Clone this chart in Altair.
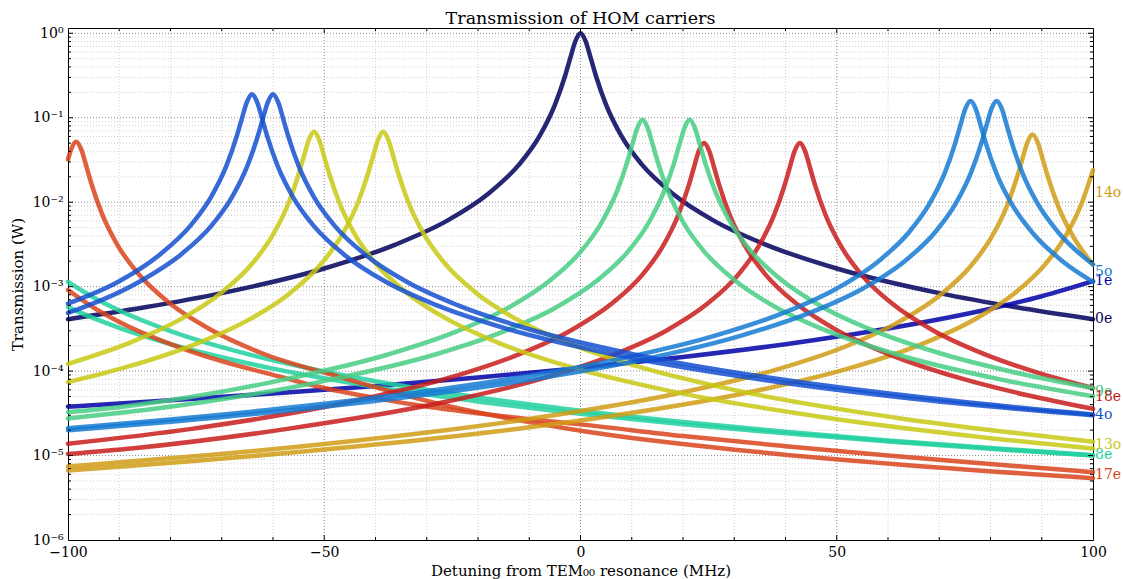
import altair as alt
import pandas as pd

# Transmitted power (W) of the higher-order-mode carriers against detuning (MHz).
# Each mode family has one or two resonances.

x_0e = [-100, -85, -70, -50, -36, -26, -18, -12, -8, -5, -3, -2, -1, 0, 1, 2, 3, 5, 8, 12, 18, 26, 36, 50, 70, 85, 100]
t_0e = [4.12e-4, 5.7e-4, 8.39e-4, 1.64e-3, 3.17e-3, 6.05e-3, 1.26e-2, 2.78e-2, 6.05e-2, 0.142, 0.314, 0.507, 0.805, 1.0,
        0.805, 0.507, 0.314, 0.142, 6.05e-2, 2.78e-2, 1.26e-2, 6.05e-3, 3.17e-3, 1.64e-3, 8.39e-4, 5.7e-4, 4.12e-4]

x_1e = [-100, -80, -60, -40, -20, 0, 20, 40, 60, 80, 90, 100]
t_1e = [3.79e-5, 4.51e-5, 5.43e-5, 6.67e-5, 8.39e-5, 1.09e-4, 1.47e-4, 2.08e-4, 3.19e-4, 5.48e-4, 7.69e-4, 1.16e-3]

x_4o_a = [-100, -90.1, -82.1, -76.1, -72.1, -69.1, -67.1, -66.1, -65.1, -64.1, -63.1, -62.1, -61.1, -59.1, -56.1,
          -52.1, -46.1, -38.1, -28.1, -14.1, 5.9, 35.9, 65.9, 100]
t_4o_a = [6.3e-4, 1.15e-3, 2.39e-3, 5.28e-3, 1.15e-2, 2.69e-2, 5.97e-2, 9.64e-2, 0.153, 0.19, 0.153, 9.64e-2, 5.97e-2,
          2.69e-2, 1.15e-2, 5.28e-3, 2.39e-3, 1.15e-3, 6.03e-4, 3.13e-4, 1.6e-4, 7.83e-5, 4.63e-5, 3.0e-5]

x_4o_b = [-100, -86, -78, -72, -68, -65, -63, -62, -61, -60, -59, -58, -57, -55, -52, -48, -42, -34, -24, -10, 10, 40, 70, 100]
t_4o_b = [4.88e-4, 1.15e-3, 2.39e-3, 5.28e-3, 1.15e-2, 2.69e-2, 5.97e-2, 9.64e-2, 0.153, 0.19, 0.153, 9.64e-2, 5.97e-2,
          2.69e-2, 1.15e-2, 5.28e-3, 2.39e-3, 1.15e-3, 6.03e-4, 3.13e-4, 1.6e-4, 7.83e-5, 4.63e-5, 3.06e-5]

x_5o_a = [-100, -83.9, -53.9, -23.9, 6.1, 26.1, 40.1, 50.1, 58.1, 64.1, 68.1, 71.1, 73.1, 74.1, 75.1, 76.1, 77.1, 78.1,
          79.1, 81.1, 84.1, 88.1, 94.1, 100]
t_5o_a = [2.1e-5, 2.55e-5, 3.86e-5, 6.53e-5, 1.33e-4, 2.61e-4, 5.02e-4, 9.59e-4, 1.99e-3, 4.41e-3, 9.59e-3, 2.24e-2,
          4.98e-2, 8.04e-2, 0.128, 0.158, 0.128, 8.04e-2, 4.98e-2, 2.24e-2, 9.59e-3, 4.41e-3, 1.99e-3, 1.14e-3]

x_5o_b = [-100, -78.8, -48.8, -18.8, 11.2, 31.2, 45.2, 55.2, 63.2, 69.2, 73.2, 76.2, 78.2, 79.2, 80.2, 81.2, 82.2, 83.2,
          84.2, 86.2, 89.2, 93.2, 100]
t_5o_b = [1.99e-5, 2.55e-5, 3.86e-5, 6.53e-5, 1.33e-4, 2.61e-4, 5.02e-4, 9.59e-4, 1.99e-3, 4.41e-3, 9.59e-3, 2.24e-2,
          4.98e-2, 8.04e-2, 0.128, 0.158, 0.128, 8.04e-2, 4.98e-2, 2.24e-2, 9.59e-3, 4.41e-3, 1.83e-3]

x_8e_a = [-100, -95, -90, -80, -70, -60, -50, -40, -20, 0, 20, 40, 60, 80, 100]
t_8e_a = [1.14e-3, 7.43e-4, 5.22e-4, 2.98e-4, 1.92e-4, 1.34e-4, 9.89e-5, 7.57e-5, 4.88e-5, 3.39e-5, 2.49e-5, 1.91e-5,
          1.51e-5, 1.23e-5, 1.01e-5]

x_8e_b = [-100, -95, -90, -80, -70, -60, -50, -40, -20, 0, 20, 40, 60, 80, 100]
t_8e_b = [5.73e-4, 4.23e-4, 3.25e-4, 2.09e-4, 1.46e-4, 1.07e-4, 8.22e-5, 6.5e-5, 4.37e-5, 3.13e-5, 2.35e-5, 1.83e-5,
          1.47e-5, 1.2e-5, 1.0e-5]

x_9e_a = [-100, -87.9, -57.9, -37.9, -23.9, -13.9, -5.9, 0.1, 4.1, 7.1, 9.1, 10.1, 11.1, 12.1, 13.1, 14.1, 15.1, 17.1,
          20.1, 24.1, 30.1, 38.1, 48.1, 62.1, 82.1, 100]
t_9e_a = [3.25e-5, 3.89e-5, 7.93e-5, 1.55e-4, 2.99e-4, 5.71e-4, 1.19e-3, 2.62e-3, 5.71e-3, 1.34e-2, 2.96e-2, 4.79e-2,
          7.6e-2, 9.44e-2, 7.6e-2, 4.79e-2, 2.96e-2, 1.34e-2, 5.71e-3, 2.62e-3, 1.19e-3, 5.71e-4, 2.99e-4, 1.55e-4,
          7.93e-5, 5.03e-5]

x_9e_b = [-100, -78.7, -48.7, -28.7, -14.7, -4.7, 3.3, 9.3, 13.3, 16.3, 18.3, 19.3, 20.3, 21.3, 22.3, 23.3, 24.3, 26.3,
          29.3, 33.3, 39.3, 47.3, 57.3, 71.3, 85, 100]
t_9e_b = [2.75e-5, 3.89e-5, 7.93e-5, 1.55e-4, 2.99e-4, 5.71e-4, 1.19e-3, 2.62e-3, 5.71e-3, 1.34e-2, 2.96e-2, 4.79e-2,
          7.6e-2, 9.44e-2, 7.6e-2, 4.79e-2, 2.96e-2, 1.34e-2, 5.71e-3, 2.62e-3, 1.19e-3, 5.71e-4, 2.99e-4, 1.55e-4,
          9.57e-5, 6.28e-5]

x_13o_a = [-100, -88, -78, -70, -64, -60, -57, -55, -54, -53, -52, -51, -50, -49, -47, -44, -40, -34, -26, -16, -2, 18,
           48, 78, 100]
t_13o_a = [1.22e-4, 2.16e-4, 4.12e-4, 8.55e-4, 1.89e-3, 4.12e-3, 9.64e-3, 2.14e-2, 3.45e-2, 5.48e-2, 6.81e-2, 5.48e-2,
           3.45e-2, 2.14e-2, 9.64e-3, 4.12e-3, 1.89e-3, 8.55e-4, 4.12e-4, 2.16e-4, 1.12e-4, 5.71e-5, 2.81e-5, 1.66e-5,
           1.21e-5]

x_13o_b = [-100, -88.5, -74.5, -64.5, -56.5, -50.5, -46.5, -43.5, -41.5, -40.5, -39.5, -38.5, -37.5, -36.5, -35.5, -33.5,
           -30.5, -26.5, -20.5, -12.5, -2.5, 11.5, 31.5, 61.5, 100]
t_13o_b = [7.41e-5, 1.12e-4, 2.16e-4, 4.12e-4, 8.55e-4, 1.89e-3, 4.12e-3, 9.64e-3, 2.14e-2, 3.45e-2, 5.48e-2, 6.81e-2,
           5.48e-2, 3.45e-2, 2.14e-2, 9.64e-3, 4.12e-3, 1.89e-3, 8.55e-4, 4.12e-4, 2.16e-4, 1.12e-4, 5.71e-5, 2.81e-5,
           1.46e-5]

x_14o_a = [-100, -71.8, -41.8, -11.8, 18.2, 38.2, 52.2, 62.2, 70.2, 76.2, 80.2, 83.2, 85.2, 86.2, 87.2, 88.2, 89.2, 90.2,
           91.2, 93.2, 96.2, 100]
t_14o_a = [7.4e-6, 1.02e-5, 1.55e-5, 2.62e-5, 5.33e-5, 1.04e-4, 2.01e-4, 3.85e-4, 7.98e-4, 1.77e-3, 3.85e-3, 8.99e-3,
           2.0e-2, 3.22e-2, 5.12e-2, 6.35e-2, 5.12e-2, 3.22e-2, 2.0e-2, 8.99e-3, 3.85e-3, 1.82e-3]

x_14o_b = [-100, -77.3, -57.3, -27.3, 2.7, 32.7, 52.7, 66.7, 76.7, 84.7, 90.7, 94.7, 97.7, 100]
t_14o_b = [6.65e-6, 8.43e-6, 1.07e-5, 1.62e-5, 2.74e-5, 5.57e-5, 1.09e-4, 2.1e-4, 4.02e-4, 8.34e-4, 1.85e-3, 4.02e-3,
           9.4e-3, 2.4e-2]

x_17e_a = [-100, -99.4, -98.4, -97.4, -96.4, -95.4, -93.4, -90.4, -86.4, -80.4, -72.4, -62.4, -48.4, -28.4, 1.6, 31.6,
           61.6, 100]
t_17e_a = [3.21e-2, 4.19e-2, 5.2e-2, 4.19e-2, 2.64e-2, 1.63e-2, 7.36e-3, 3.15e-3, 1.45e-3, 6.53e-4, 3.15e-4, 1.65e-4,
           9.0e-5, 4.2e-5, 1.9e-5, 1.15e-5, 7.9e-6, 5.4e-6]

x_17e_b = [-100, -95, -90, -80, -70, -60, -50, -40, -30, -20, -10, 0, 20, 40, 60, 80, 100]
t_17e_b = [9.12e-4, 5.64e-4, 3.82e-4, 2.09e-4, 1.31e-4, 9.02e-5, 6.31e-5, 4.79e-5, 3.8e-5, 3.16e-5, 2.69e-5, 2.34e-5,
           1.7e-5, 1.29e-5, 1.0e-5, 7.94e-6, 6.35e-6]

x_18e_a = [-100, -75.9, -45.9, -25.9, -11.9, -1.9, 6.1, 12.1, 16.1, 19.1, 21.1, 22.1, 23.1, 24.1, 25.1, 26.1, 27.1, 29.1,
           32.1, 36.1, 42.1, 50.1, 60.1, 74.1, 87, 100]
t_18e_a = [1.38e-5, 2.07e-5, 4.21e-5, 8.24e-5, 1.59e-4, 3.03e-4, 6.3e-4, 1.39e-3, 3.03e-3, 7.1e-3, 1.57e-2, 2.54e-2,
           4.04e-2, 5.01e-2, 4.04e-2, 2.54e-2, 1.57e-2, 7.1e-3, 3.03e-3, 1.39e-3, 6.3e-4, 3.03e-4, 1.59e-4, 8.24e-5,
           5.21e-5, 3.58e-5]

x_18e_b = [-100, -87.2, -57.2, -27.2, -7.2, 6.8, 16.8, 24.8, 30.8, 34.8, 37.8, 39.8, 40.8, 41.8, 42.8, 43.8, 44.8, 45.8,
           47.8, 50.8, 54.8, 60.8, 68.8, 78.8, 89, 100]
t_18e_b = [1.04e-5, 1.22e-5, 2.07e-5, 4.21e-5, 8.24e-5, 1.59e-4, 3.03e-4, 6.3e-4, 1.39e-3, 3.03e-3, 7.1e-3, 1.57e-2,
           2.54e-2, 4.04e-2, 5.01e-2, 4.04e-2, 2.54e-2, 1.57e-2, 7.1e-3, 3.03e-3, 1.39e-3, 6.3e-4, 3.03e-4, 1.59e-4,
           9.66e-5, 6.31e-5]

families = ["0e", "1e", "4o", "5o", "8e", "9e", "13o", "14o", "17e", "18e"]
family_colors = ["#00005c", "#0000a8", "#1450d0", "#157ad2", "#22d0a0", "#46cc84",
                 "#c8c814", "#d09c14", "#d8441c", "#c81c1c"]

curves = [
    ("0e", "0e", x_0e, t_0e),
    ("1e", "1e", x_1e, t_1e),
    ("8e", "8e-a", x_8e_a, t_8e_a),
    ("8e", "8e-b", x_8e_b, t_8e_b),
    ("17e", "17e-a", x_17e_a, t_17e_a),
    ("17e", "17e-b", x_17e_b, t_17e_b),
    ("14o", "14o-a", x_14o_a, t_14o_a),
    ("14o", "14o-b", x_14o_b, t_14o_b),
    ("18e", "18e-a", x_18e_a, t_18e_a),
    ("18e", "18e-b", x_18e_b, t_18e_b),
    ("9e", "9e-a", x_9e_a, t_9e_a),
    ("9e", "9e-b", x_9e_b, t_9e_b),
    ("13o", "13o-a", x_13o_a, t_13o_a),
    ("13o", "13o-b", x_13o_b, t_13o_b),
    ("5o", "5o-a", x_5o_a, t_5o_a),
    ("5o", "5o-b", x_5o_b, t_5o_b),
    ("4o", "4o-a", x_4o_a, t_4o_a),
    ("4o", "4o-b", x_4o_b, t_4o_b),
]

rows = []
for k, (fam, cid, xs, ts) in enumerate(curves):
    for i, (xv, tv) in enumerate(zip(xs, ts)):
        rows.append({"family": fam, "curve": f"{k:02d}-{cid}", "i": i, "detuning": xv, "power": tv})
df = pd.DataFrame(rows)

# family labels at the right edge, placed at the mean of the family's end values
label_rows = []
for fam in families:
    ends = [ts[-1] for f, _, _, ts in curves if f == fam]
    label_rows.append({"family": fam, "detuning": 100, "power": sum(ends) / len(ends)})
labels_df = pd.DataFrame(label_rows)

W, H = 1025, 512
FONT = "DejaVu Serif"
x_scale = alt.Scale(domain=[-100, 100], nice=False, zero=False)
y_scale = alt.Scale(type="log", domain=[1e-6, 1.155], nice=False)
color_scale = alt.Scale(domain=families, range=family_colors)

x_ticks_major = [-100, -50, 0, 50, 100]
x_ticks_minor = [v for v in range(-90, 100, 10) if v % 50 != 0]
y_ticks_major = [10.0 ** e for e in range(-6, 1)]
y_ticks_minor = [k * 10.0 ** e for e in range(-6, 0) for k in range(2, 10)]

exp_idx = "round(-log(datum.value) / LN10)"
y_label_expr = ("'10' + (datum.value < 0.5 ? '\u207b' : '') + substring('\u2070\u00b9\u00b2\u00b3\u2074\u2075\u2076', "
                + exp_idx + ", " + exp_idx + " + 1)")

# one shared axis definition per channel, repeated in every layer so they merge
x_axis = alt.Axis(
    values=x_ticks_major, format="d", grid=False, ticks=False, tickSize=0, domain=False,
    labelFlush=False, labelFont=FONT, labelFontSize=14, labelColor="#000", labelPadding=5,
    title="Detuning from TEM\u2080\u2080 resonance (MHz)", titleFont=FONT, titleFontSize=15,
    titleFontWeight="normal", titleColor="#000", titleY=30, titleBaseline="middle")
y_axis = alt.Axis(
    values=y_ticks_major, grid=False, ticks=False, tickSize=0, domain=False, labelOverlap=False,
    labelFont=FONT, labelFontSize=14, labelColor="#000", labelPadding=5, labelExpr=y_label_expr,
    title="Transmission (W)", titleFont=FONT, titleFontSize=15, titleFontWeight="normal",
    titleColor="#000", titleX=-51, titleY=H / 2, titleAngle=270, titleAlign="center",
    titleBaseline="middle")


def X(field):
    return alt.X(field, type="quantitative", scale=x_scale, axis=x_axis)


def Y(field):
    return alt.Y(field, type="quantitative", scale=y_scale, axis=y_axis)


def vgrid(values, color):
    return alt.Chart(pd.DataFrame({"v": values})).mark_rule(
        color=color, strokeDash=[1, 2], strokeWidth=1
    ).encode(x=X("v"))


def hgrid(values, color):
    return alt.Chart(pd.DataFrame({"v": values})).mark_rule(
        color=color, strokeDash=[1, 2], strokeWidth=1
    ).encode(y=Y("v"))


def xticks(values, length):
    base = alt.Chart(pd.DataFrame({"v": values})).mark_rule(color="#000", strokeWidth=1)
    return [base.encode(x=X("v"), y=alt.value(H), y2=alt.value(H - length)),
            base.encode(x=X("v"), y=alt.value(0), y2=alt.value(length))]


def yticks(values, length):
    base = alt.Chart(pd.DataFrame({"v": values})).mark_rule(color="#000", strokeWidth=1)
    return [base.encode(y=Y("v"), x=alt.value(0), x2=alt.value(length)),
            base.encode(y=Y("v"), x=alt.value(W), x2=alt.value(W - length))]


lines = alt.Chart(df).mark_line(
    interpolate="monotone", strokeWidth=4.5, opacity=0.85, strokeCap="round", strokeJoin="round"
).encode(
    x=X("detuning"),
    y=Y("power"),
    color=alt.Color("family:N", scale=color_scale, legend=None),
    detail="curve:N",
    order="i:Q",
)

labels = alt.Chart(labels_df).mark_text(
    align="left", baseline="middle", dx=2, font=FONT, fontSize=14
).encode(
    x=X("detuning"),
    y=Y("power"),
    text="family:N",
    color=alt.Color("family:N", scale=color_scale, legend=None),
)

layers = [
    vgrid(x_ticks_minor, "#d0d0d0"),
    hgrid(y_ticks_minor, "#d0d0d0"),
    vgrid([-50, 0, 50], "#8c8c8c"),
    hgrid(y_ticks_major[1:], "#8c8c8c"),
    labels,
    lines,
]
layers += xticks(x_ticks_minor, 3) + xticks(x_ticks_major[1:-1], 5)
layers += yticks(y_ticks_minor, 3) + yticks(y_ticks_major[1:], 5)

chart = alt.layer(*layers).properties(
    width=W,
    height=H,
    padding={"left": 68, "top": 28, "right": 30, "bottom": 39},
    autosize=alt.AutoSizeParams(type="none"),
    background="white",
    title=alt.TitleParams(
        "Transmission of HOM carriers", font=FONT, fontSize=17.5, fontWeight="normal",
        color="#000", anchor="middle", frame="group", offset=5, baseline="alphabetic", dy=20),
).configure_view(stroke="#000", strokeWidth=1)

chart.save("out.html", embed_options={"renderer": "svg", "actions": False})
